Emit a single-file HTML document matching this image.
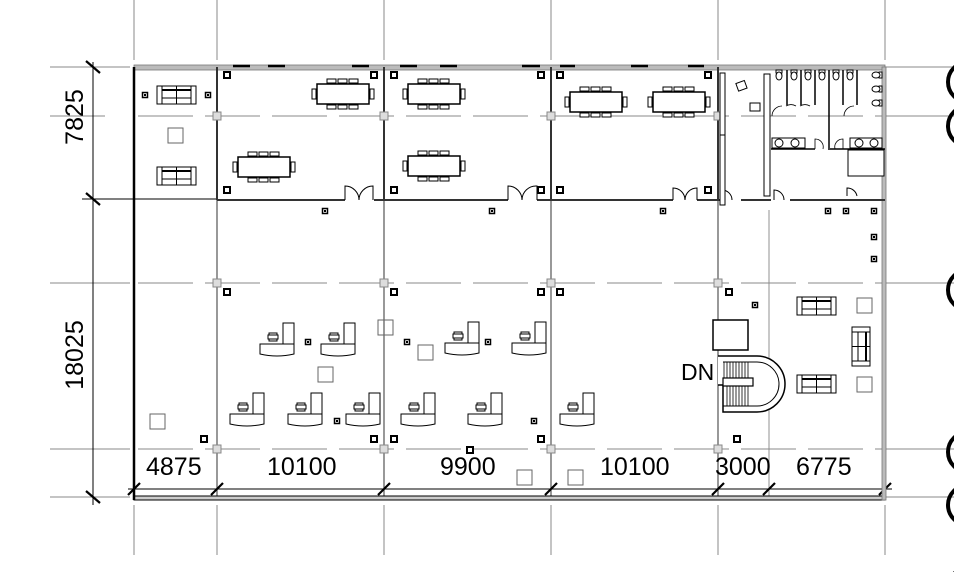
<!DOCTYPE html>
<html><head><meta charset="utf-8"><style>
html,body{margin:0;padding:0;background:#fff;width:954px;height:572px;overflow:hidden;}
svg{display:block;}
text{font-family:"Liberation Sans",sans-serif;fill:#000;}
</style></head><body>
<svg width="954" height="572" viewBox="0 0 954 572" xmlns="http://www.w3.org/2000/svg">
<defs>
<g id="tbl" fill="#fff" stroke="#000" stroke-width="1">
 <rect x="0" y="0" width="52" height="20" stroke-width="1.5"/>
 <rect x="10" y="-5" width="9" height="4"/><rect x="21" y="-5" width="9" height="4"/><rect x="32" y="-5" width="9" height="4"/>
 <rect x="10" y="21" width="9" height="4"/><rect x="21" y="21" width="9" height="4"/><rect x="32" y="21" width="9" height="4"/>
 <rect x="-5" y="5" width="4" height="10"/><rect x="53" y="5" width="4" height="10"/>
</g>
<g id="sofa" fill="#fff" stroke="#000" stroke-width="1">
 <rect x="0" y="0" width="39" height="18"/><rect x="5" y="0" width="29" height="18"/>
 <line x1="19.5" y1="0" x2="19.5" y2="18"/><line x1="5" y1="4" x2="34" y2="4" stroke-width="2"/><line x1="5" y1="12" x2="34" y2="12"/>
</g>
<g id="desk" fill="#fff" stroke="#000" stroke-width="1">
 <rect x="23" y="0" width="11" height="21"/>
 <path d="M0 21 H34 V31 Q17 35 0 31 Z"/>
 <rect x="9" y="10" width="8" height="8"/><rect x="8" y="12" width="10" height="4"/>
</g>
<g id="col"><rect x="-3" y="-3" width="6" height="6" fill="#fff" stroke="#000" stroke-width="2"/></g>
<g id="coln"><rect x="-2.5" y="-2.5" width="5" height="5" fill="#fff" stroke="#000" stroke-width="1.5"/><rect x="-1" y="-1" width="2" height="2" fill="#000"/></g>
<g id="gcol"><rect x="-4" y="-4" width="8" height="8" fill="#ddd" stroke="#888" stroke-width="1"/></g>
<g id="bx"><rect x="0" y="0" width="15" height="15" fill="#fff" stroke="#666" stroke-width="1"/></g>
<g id="wc" fill="#fff" stroke="#000" stroke-width="1"><rect x="-3" y="0" width="6" height="3"/><ellipse cx="0" cy="6" rx="3" ry="4"/></g>
</defs>

<g stroke="#888" stroke-width="1">
 <line x1="134" y1="0" x2="134" y2="60"/><line x1="134" y1="505" x2="134" y2="555"/>
 <line x1="217" y1="0" x2="217" y2="60"/><line x1="217" y1="505" x2="217" y2="555"/>
 <line x1="384" y1="0" x2="384" y2="60"/><line x1="384" y1="505" x2="384" y2="555"/>
 <line x1="551" y1="0" x2="551" y2="60"/><line x1="551" y1="505" x2="551" y2="555"/>
 <line x1="718" y1="0" x2="718" y2="60"/><line x1="718" y1="505" x2="718" y2="555"/>
 <line x1="885" y1="0" x2="885" y2="60"/><line x1="885" y1="505" x2="885" y2="555"/>
</g>
<g stroke="#555" stroke-width="1.2">
 <line x1="217" y1="199" x2="217" y2="497"/><line x1="384" y1="199" x2="384" y2="497"/>
 <line x1="551" y1="199" x2="551" y2="497"/><line x1="718" y1="199" x2="718" y2="497"/>
 <line x1="769" y1="210" x2="769" y2="497" stroke="#777" stroke-width="0.8"/>
</g>
<g stroke="#888" stroke-width="1">
 <line x1="50" y1="67" x2="130" y2="67"/><line x1="885" y1="67" x2="954" y2="67"/>
 <line x1="50" y1="116" x2="105" y2="116"/><line x1="885" y1="116" x2="954" y2="116"/>
 <line x1="50" y1="283" x2="130" y2="283"/><line x1="885" y1="283" x2="954" y2="283"/>
 <line x1="50" y1="449" x2="130" y2="449"/><line x1="885" y1="449" x2="954" y2="449"/>
 <line x1="50" y1="497" x2="130" y2="497"/><line x1="885" y1="497" x2="954" y2="497"/>
</g>
<g stroke="#888" stroke-width="1" stroke-dasharray="55,12">
 <line x1="138" y1="116" x2="885" y2="116"/>
 <line x1="138" y1="283" x2="885" y2="283"/>
 <line x1="138" y1="449" x2="885" y2="449"/>
</g>
<line x1="82" y1="199" x2="217" y2="199" stroke="#000" stroke-width="1"/>

<g stroke="#000" stroke-width="1">
 <line x1="93" y1="62" x2="93" y2="505"/>
 <line x1="128" y1="489" x2="892" y2="489"/>
</g>
<g stroke="#000" stroke-width="2.2">
 <line x1="86" y1="61" x2="100" y2="73"/><line x1="86" y1="193" x2="100" y2="205"/><line x1="86" y1="491" x2="100" y2="503"/>
 <line x1="128" y1="495" x2="140" y2="483"/><line x1="211" y1="495" x2="223" y2="483"/><line x1="378" y1="495" x2="390" y2="483"/>
 <line x1="545" y1="495" x2="557" y2="483"/><line x1="712" y1="495" x2="724" y2="483"/><line x1="763" y1="495" x2="775" y2="483"/><line x1="879" y1="495" x2="891" y2="483"/>
</g>

<rect x="134" y="65" width="751" height="5" fill="#bbb" stroke="#777" stroke-width="0.8"/>
<g stroke="#000" stroke-width="2.5"><line x1="233" y1="66" x2="250" y2="66"/><line x1="268" y1="66" x2="285" y2="66"/><line x1="352" y1="66" x2="369" y2="66"/>
<line x1="400" y1="66" x2="417" y2="66"/><line x1="440" y1="66" x2="457" y2="66"/><line x1="522" y1="66" x2="540" y2="66"/>
<line x1="560" y1="66" x2="575" y2="66"/><line x1="631" y1="66" x2="648" y2="66"/><line x1="688" y1="66" x2="704" y2="66"/></g>
<rect x="134" y="496" width="751" height="4" fill="#ccc" stroke="#000" stroke-width="1"/>
<rect x="882" y="67" width="4" height="433" fill="#bbb" stroke="#777" stroke-width="0.8"/>
<line x1="134" y1="67" x2="134" y2="500" stroke="#000" stroke-width="2.5"/>

<g stroke="#333" stroke-width="2">
 <line x1="217" y1="67" x2="217" y2="200"/><line x1="384" y1="67" x2="384" y2="200"/>
 <line x1="551" y1="67" x2="551" y2="200"/><line x1="718" y1="67" x2="718" y2="200"/>
 <line x1="217" y1="200" x2="345" y2="200"/><line x1="374" y1="200" x2="508" y2="200"/><line x1="537" y1="200" x2="673" y2="200"/>
 <line x1="697" y1="200" x2="722" y2="200"/><line x1="741" y1="200" x2="771" y2="200"/><line x1="790" y1="200" x2="885" y2="200"/>
</g>
<g fill="none" stroke="#000" stroke-width="1">
 <path d="M345 200 V186 A14 14 0 0 1 359 200 M373 200 V186 A14 14 0 0 0 359 200"/>
 <path d="M508 200 V186 A14 14 0 0 1 522 200 M537 200 V186 A14 14 0 0 0 522 200"/>
 <path d="M673 200 V188 A12 12 0 0 1 685 200 M697 200 V188 A12 12 0 0 0 685 200"/>
 <path d="M722 200 V190 A10 10 0 0 1 732 200"/>
 <path d="M774 200 V190 A10 10 0 0 1 784 200"/>
 <path d="M847 196 V188 A10 10 0 0 1 857 196"/>
</g>
<use href="#gcol" x="217" y="116"/><use href="#gcol" x="384" y="116"/><use href="#gcol" x="551" y="116"/><use href="#gcol" x="718" y="116"/>
<use href="#gcol" x="217" y="283"/><use href="#gcol" x="384" y="283"/><use href="#gcol" x="551" y="283"/><use href="#gcol" x="718" y="283"/>
<use href="#gcol" x="217" y="449"/><use href="#gcol" x="384" y="449"/><use href="#gcol" x="551" y="449"/><use href="#gcol" x="718" y="449"/>

<g>
<use href="#col" x="227" y="75"/><use href="#col" x="374" y="75"/><use href="#col" x="394" y="75"/><use href="#col" x="541" y="75"/><use href="#col" x="560" y="75"/><use href="#col" x="708" y="75"/>
<use href="#col" x="227" y="190"/><use href="#col" x="394" y="190"/><use href="#col" x="541" y="190"/><use href="#col" x="560" y="190"/><use href="#col" x="708" y="190"/>
<use href="#col" x="227" y="292"/><use href="#col" x="394" y="292"/><use href="#col" x="541" y="292"/><use href="#col" x="560" y="292"/><use href="#col" x="729" y="292"/>
<use href="#col" x="204" y="439"/><use href="#col" x="374" y="439"/><use href="#col" x="394" y="439"/><use href="#col" x="541" y="439"/><use href="#col" x="737" y="439"/><use href="#col" x="470" y="450"/>
<use href="#coln" x="145" y="95"/><use href="#coln" x="208" y="95"/><use href="#coln" x="325" y="211"/><use href="#coln" x="492" y="211"/><use href="#coln" x="663" y="211"/>
<use href="#coln" x="828" y="211"/><use href="#coln" x="846" y="211"/><use href="#coln" x="874" y="211"/><use href="#coln" x="874" y="237"/><use href="#coln" x="874" y="259"/>
<use href="#coln" x="308" y="342"/><use href="#coln" x="407" y="342"/><use href="#coln" x="488" y="342"/><use href="#coln" x="337" y="421"/><use href="#coln" x="534" y="421"/><use href="#coln" x="755" y="305"/>
</g>

<use href="#bx" x="168" y="128"/><use href="#bx" x="150" y="414"/><use href="#bx" x="318" y="367"/><use href="#bx" x="418" y="345"/>
<use href="#bx" x="517" y="470"/><use href="#bx" x="568" y="470"/><use href="#bx" x="857" y="298"/><use href="#bx" x="857" y="377"/>
<rect x="378" y="320" width="15" height="15" fill="none" stroke="#666"/>

<use href="#tbl" x="317" y="84"/><use href="#tbl" x="408" y="84"/><use href="#tbl" x="238" y="157"/><use href="#tbl" x="408" y="156"/>
<use href="#tbl" x="570" y="92"/><use href="#tbl" x="653" y="92"/>
<use href="#sofa" x="157" y="86"/><use href="#sofa" x="157" y="167"/>
<use href="#sofa" x="797" y="297"/><use href="#sofa" x="797" y="375"/>
<g transform="translate(850,327) rotate(90) translate(0,-20)"><use href="#sofa" x="0" y="0"/></g>

<use href="#desk" x="260" y="323"/><use href="#desk" x="321" y="323"/><use href="#desk" x="445" y="322"/><use href="#desk" x="512" y="322"/>
<use href="#desk" x="230" y="393"/><use href="#desk" x="288" y="393"/><use href="#desk" x="346" y="393"/><use href="#desk" x="401" y="393"/><use href="#desk" x="468" y="393"/><use href="#desk" x="560" y="393"/>

<g fill="#fff" stroke="#000" stroke-width="1">
 <rect x="720" y="73" width="5" height="62"/><rect x="720" y="135" width="5" height="70"/>
 <rect x="764" y="74" width="6" height="122"/>
 <rect x="737" y="82" width="9" height="8" transform="rotate(-20 741 86)"/><rect x="750" y="103" width="10" height="8"/>
 <rect x="772" y="138" width="33" height="10"/><rect x="850" y="138" width="32" height="10"/>
 <circle cx="779" cy="143" r="4"/><circle cx="795" cy="143" r="4"/><circle cx="859" cy="143" r="4"/><circle cx="874" cy="143" r="4"/>
 <rect x="848" y="150" width="36" height="26"/>
</g>
<g stroke="#000" stroke-width="1.5">
 <line x1="787" y1="70" x2="787" y2="105"/><line x1="801" y1="70" x2="801" y2="105"/><line x1="815" y1="70" x2="815" y2="105"/>
 <line x1="829" y1="70" x2="829" y2="148"/><line x1="843" y1="70" x2="843" y2="105"/><line x1="857" y1="70" x2="857" y2="105"/>
 <line x1="771" y1="149" x2="815" y2="149"/><line x1="828" y1="149" x2="885" y2="149"/>
</g>
<g fill="none" stroke="#000" stroke-width="0.8">
 <path d="M772 116 A10 10 0 0 1 782 106 M786 106 A10 10 0 0 1 796 106 M800 106 A10 10 0 0 1 810 106 M844 116 A10 10 0 0 1 854 106"/>
 <path d="M815 149 V139 A8 8 0 0 1 823 149 M843 149 V139 A8 8 0 0 0 835 149"/>
</g>
<use href="#wc" x="779" y="70"/><use href="#wc" x="794" y="70"/><use href="#wc" x="808" y="70"/><use href="#wc" x="822" y="70"/><use href="#wc" x="836" y="70"/><use href="#wc" x="850" y="70"/>
<g transform="translate(882,75) rotate(90)"><use href="#wc" x="0" y="0"/><use href="#wc" x="14" y="0"/><use href="#wc" x="28" y="0"/></g>

<rect x="713" y="320" width="35" height="30" fill="#fff" stroke="#000" stroke-width="1.5"/>
<path d="M718 356 H757 A28 28 0 0 1 757 412 H723 V385 H718" fill="#fff" stroke="#000" stroke-width="1.5"/>
<path d="M723 362 H757 A22 22 0 0 1 757 406 H723" fill="none" stroke="#000" stroke-width="1"/>
<rect x="723" y="378" width="30" height="8" fill="#fff" stroke="#000" stroke-width="1.2"/>
<g stroke="#000" stroke-width="0.8">
 <line x1="724" y1="362" x2="724" y2="378"/><line x1="727" y1="362" x2="727" y2="378"/><line x1="730" y1="362" x2="730" y2="378"/><line x1="733" y1="362" x2="733" y2="378"/><line x1="736" y1="362" x2="736" y2="378"/><line x1="739" y1="362" x2="739" y2="378"/><line x1="742" y1="362" x2="742" y2="378"/><line x1="745" y1="362" x2="745" y2="378"/><line x1="748" y1="362" x2="748" y2="378"/>
 <line x1="727" y1="386" x2="727" y2="406"/><line x1="730" y1="386" x2="730" y2="406"/><line x1="733" y1="386" x2="733" y2="406"/><line x1="736" y1="386" x2="736" y2="406"/><line x1="739" y1="386" x2="739" y2="406"/><line x1="742" y1="386" x2="742" y2="406"/><line x1="745" y1="386" x2="745" y2="406"/><line x1="748" y1="386" x2="748" y2="406"/>
</g>
<text x="681" y="380" font-size="23">DN</text>

<g font-size="25">
 <text x="146" y="475">4875</text><text x="267" y="475">10100</text><text x="440" y="475">9900</text>
 <text x="600" y="475">10100</text><text x="715" y="475">3000</text><text x="796" y="475">6775</text>
 <text transform="translate(83,117) rotate(-90)" text-anchor="middle">7825</text>
 <text transform="translate(83,355) rotate(-90)" text-anchor="middle">18025</text>
</g>

<g fill="none" stroke="#000" stroke-width="4">
 <circle cx="968" cy="82" r="20"/><circle cx="968" cy="126" r="20"/><circle cx="968" cy="290" r="20"/>
 <circle cx="968" cy="452" r="20"/><circle cx="968" cy="505" r="20"/><circle cx="968" cy="588" r="20"/>
</g>
</svg>
</body></html>
